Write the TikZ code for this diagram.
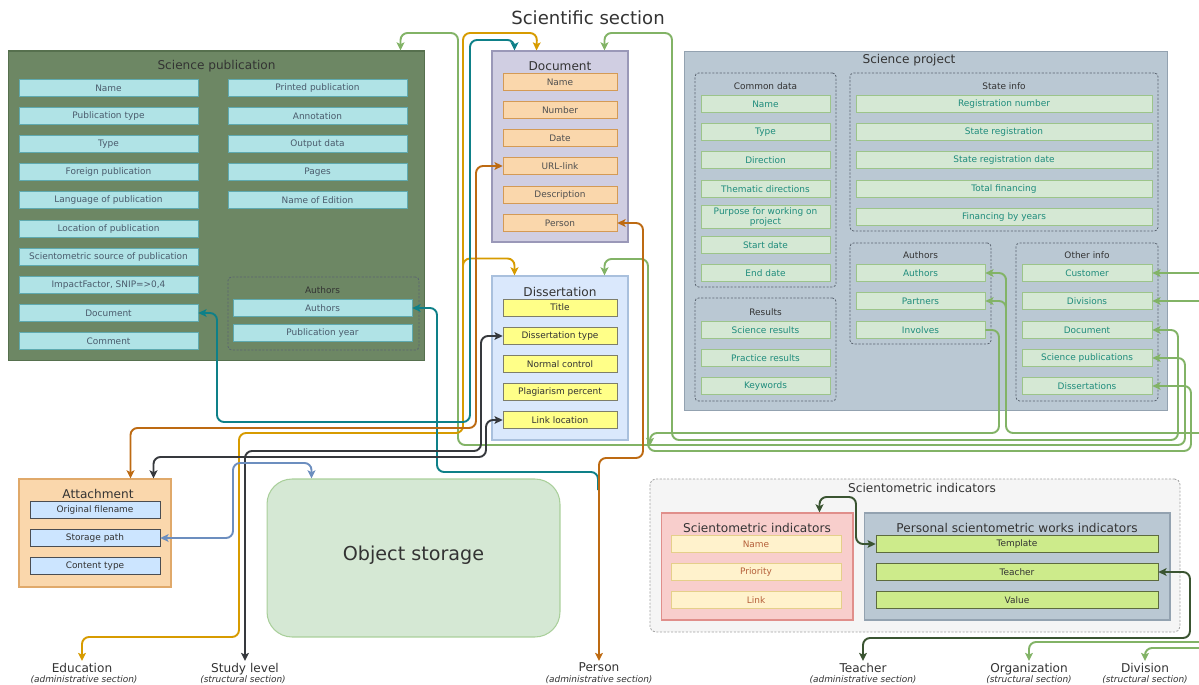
\documentclass[tikz,border=0pt]{standalone}
\usepackage{fontspec}
\setmainfont{DejaVu Sans}
\usetikzlibrary{arrows.meta,calc}

% palette
\definecolor{ink}{HTML}{333333}
\definecolor{spFill}{HTML}{6D8764}
\definecolor{spLine}{HTML}{56704E}
\definecolor{spfFill}{HTML}{B0E3E6}
\definecolor{spfLine}{HTML}{5FAAB0}
\definecolor{spfText}{HTML}{4A5B6C}
\definecolor{docFill}{HTML}{D0CEE2}
\definecolor{docLine}{HTML}{9A98B8}
\definecolor{docfFill}{HTML}{FAD7AC}
\definecolor{docfLine}{HTML}{D49A55}
\definecolor{docfText}{HTML}{505050}
\definecolor{disFill}{HTML}{DAE8FC}
\definecolor{disLine}{HTML}{A9C0DD}
\definecolor{disfFill}{HTML}{FFFF88}
\definecolor{disfLine}{HTML}{7E7E6A}
\definecolor{prjFill}{HTML}{BAC8D3}
\definecolor{prjLine}{HTML}{93A2B0}
\definecolor{prjfFill}{HTML}{D5E8D4}
\definecolor{prjfLine}{HTML}{9CC48A}
\definecolor{prjfText}{HTML}{1F8C7C}
\definecolor{grpLine}{HTML}{5A6470}
\definecolor{attFill}{HTML}{FAD7AC}
\definecolor{attLine}{HTML}{E0A96A}
\definecolor{attfFill}{HTML}{CCE5FF}
\definecolor{attfLine}{HTML}{4A4D52}
\definecolor{objFill}{HTML}{D5E8D4}
\definecolor{objLine}{HTML}{A9CF9A}
\definecolor{outFill}{HTML}{F5F5F5}
\definecolor{outLine}{HTML}{A0A0A0}
\definecolor{siFill}{HTML}{F8CECC}
\definecolor{siLine}{HTML}{E08F8B}
\definecolor{sifFill}{HTML}{FFF2CC}
\definecolor{sifLine}{HTML}{E5CF8A}
\definecolor{sifText}{HTML}{B5603A}
\definecolor{pwfFill}{HTML}{CDEB8B}
\definecolor{pwfLine}{HTML}{5D6B3E}
% connector colours
\definecolor{cGreen}{HTML}{82B366}
\definecolor{cOrange}{HTML}{D79B00}
\definecolor{cRust}{HTML}{BD6A12}
\definecolor{cTeal}{HTML}{0E8088}
\definecolor{cDark}{HTML}{36393D}
\definecolor{cBlue}{HTML}{6C8EBF}
\definecolor{cForest}{HTML}{3A5431}

\newcommand\fsField{\fontsize{5.1pt}{6.2pt}\selectfont}
\newcommand\fsHead{\fontsize{6.9pt}{8pt}\selectfont}
\newcommand\fsMain{\fontsize{10.3pt}{12pt}\selectfont}
\newcommand\fsStore{\fontsize{10.9pt}{13pt}\selectfont}

\tikzset{
  fieldbase/.style={draw, line width=0.45pt, minimum height=0.34cm, inner sep=0pt, font=\fsField, align=center},
  spf/.style={fieldbase, fill=spfFill, draw=spfLine, text=spfText, minimum width=3.58cm},
  docf/.style={fieldbase, fill=docfFill, draw=docfLine, text=docfText, minimum width=2.28cm},
  disf/.style={fieldbase, fill=disfFill, draw=disfLine, text=ink, minimum width=2.28cm},
  prjf/.style={fieldbase, fill=prjfFill, draw=prjfLine, text=prjfText, minimum width=2.58cm},
  attf/.style={fieldbase, fill=attfFill, draw=attfLine, text=ink, minimum width=2.6cm},
  sif/.style={fieldbase, fill=sifFill, draw=sifLine, text=sifText, minimum width=3.4cm},
  pwf/.style={fieldbase, fill=pwfFill, draw=pwfLine, text=ink, minimum width=5.64cm},
  box/.style={draw, line width=0.6pt, inner sep=0pt},
  grp/.style={draw=grpLine, line width=0.45pt, dash pattern=on 1.2pt off 0.9pt, rounded corners=2pt, inner sep=0pt},
  head/.style={font=\fsHead, text=ink, inner sep=0pt},
  glabel/.style={font=\fsField, text=ink, inner sep=0pt},
  btm/.style={font=\fsHead, text=ink, inner sep=1pt, anchor=north},
  btmsub/.style={font=\fsField\itshape, text=ink, inner sep=0pt},
  link/.style={line width=1.1pt, rounded corners=4pt},
  >={Stealth[length=4.6pt,width=4.4pt,inset=1pt]},
}

\begin{document}
\begin{tikzpicture}[x=0.02cm,y=-0.02cm]
\useasboundingbox (0,0) rectangle (1199,685);

\node[font=\fsMain, text=ink, inner sep=0pt] (title) at (588,18) {Scientific section};

% ---------- Science publication ----------
\node[box, fill=spFill, draw=spLine, minimum width=8.34cm, minimum height=6.2cm] (spbox) at (216.5,206) {};
\node[head] (sphead) at (216.5,66) {Science publication};
\foreach \n/\y/\t in {1/88/Name, 2/116/Publication type, 3/144/Type, 4/172/Foreign publication,
  5/200/Language of publication, 6/229/Location of publication,
  7/257/Scientometric source of publication, 8/285/{ImpactFactor, SNIP=>0,4},
  9/313/Document, 10/341/Comment}
  \node[spf] (sp\n) at (108.5,\y) {\t};
\foreach \n/\y/\t in {1/88/Printed publication, 2/116/Annotation, 3/144/Output data, 4/172/Pages, 5/200/Name of Edition}
  \node[spf] (sq\n) at (317.5,\y) {\t};
\node[grp, minimum width=3.82cm, minimum height=1.46cm] (spgrp) at (323.5,313.5) {};
\node[glabel] (spgrph) at (322.5,290) {Authors};
\node[spf] (spa1) at (322.5,308) {Authors};
\node[spf] (spa2) at (322.5,333) {Publication year};

% ---------- Document ----------
\node[box, fill=docFill, draw=docLine, minimum width=2.72cm, minimum height=3.82cm] (docbox) at (560,146.5) {};
\node[head] (dochead) at (560,66) {Document};
\foreach \n/\y/\t in {1/82/Name, 2/110/Number, 3/138/Date, 4/166/URL-link, 5/195/Description, 6/223/Person}
  \node[docf] (doc\n) at (560,\y) {\t};

% ---------- Dissertation ----------
\node[box, fill=disFill, draw=disLine, minimum width=2.72cm, minimum height=3.28cm] (disbox) at (560,358) {};
\node[head] (dishead) at (560,292) {Dissertation};
\foreach \n/\y/\t in {1/307.5/Title, 2/336/Dissertation type, 3/364/Normal control, 4/392/Plagiarism percent, 5/420/Link location}
  \node[disf] (dis\n) at (560,\y) {\t};

% ---------- Science project ----------
\node[box, fill=prjFill, draw=prjLine, minimum width=9.68cm, minimum height=7.2cm] (prj) at (926,231) {};
\node[head] (prjhead) at (909,60) {Science project};
\node[grp, minimum width=2.82cm, minimum height=4.28cm] (gcd) at (765.5,180) {};
\node[glabel] (gcdh) at (765.5,86) {Common data};
\foreach \n/\y/\t in {1/104/Name, 2/132/Type, 3/160/Direction, 4/189/Thematic directions, 6/245/Start date, 7/273/End date}
  \node[prjf] (cd\n) at (765.5,\y) {\t};
\node[prjf, minimum height=0.46cm] (cd5) at (765.5,217) {Purpose for working on\\project};
\node[grp, minimum width=6.16cm, minimum height=3.16cm] (gst) at (1004,152) {};
\node[glabel] (gsth) at (1004,86) {State info};
\foreach \n/\y/\t in {1/104/Registration number, 2/132/State registration, 3/160/State registration date, 4/189/Total financing, 5/217/Financing by years}
  \node[prjf, minimum width=5.92cm] (st\n) at (1004,\y) {\t};
\node[grp, minimum width=2.82cm, minimum height=2.06cm] (grs) at (765.5,349.5) {};
\node[glabel] (grsh) at (765.5,312) {Results};
\foreach \n/\y/\t in {1/330/Science results, 2/358/Practice results, 3/386/Keywords}
  \node[prjf] (rs\n) at (765.5,\y) {\t};
\node[grp, minimum width=2.82cm, minimum height=2.02cm] (gau) at (920.5,293.5) {};
\node[glabel] (gauh) at (920.5,255) {Authors};
\foreach \n/\y/\t in {1/273/Authors, 2/301/Partners, 3/330/Involves}
  \node[prjf] (au\n) at (920.5,\y) {\t};
\node[grp, minimum width=2.84cm, minimum height=3.16cm] (got) at (1087,322) {};
\node[glabel] (goth) at (1087,255) {Other info};
\foreach \n/\y/\t in {1/273/Customer, 2/301/Divisions, 3/330/Document, 4/358/Science publications, 5/386/Dissertations}
  \node[prjf, minimum width=2.6cm] (ot\n) at (1087,\y) {\t};

% ---------- Attachment and storage ----------
\node[box, fill=attFill, draw=attLine, minimum width=3.04cm, minimum height=2.16cm] (att) at (95,533) {};
\node[head] (atthead) at (98,494) {Attachment};
\foreach \n/\y/\t in {1/510/Original filename, 2/538/Storage path, 3/566/Content type}
  \node[attf] (at\n) at (95,\y) {\t};
\node[box, fill=objFill, draw=objLine, rounded corners=0.5cm, minimum width=5.86cm, minimum height=3.16cm] (obj) at (413.5,558) {};
\node[font=\fsStore, text=ink, inner sep=0pt] (objtext) at (413.5,555) {Object storage};

% ---------- Scientometric indicators ----------
\node[draw=outLine, fill=outFill, line width=0.45pt, dash pattern=on 1.2pt off 0.9pt, rounded corners=3pt,
      minimum width=10.6cm, minimum height=3.06cm, inner sep=0pt] (siouter) at (915,555.5) {};
\node[head] (siouterh) at (922,488) {Scientometric indicators};
\node[box, fill=siFill, draw=siLine, minimum width=3.84cm, minimum height=2.14cm] (si) at (757,566.5) {};
\node[head] (sih) at (757,528) {Scientometric indicators};
\foreach \n/\y/\t in {1/544/Name, 2/572/Priority, 3/600/Link}
  \node[sif] (si\n) at (756,\y) {\t};
\node[box, fill=prjFill, draw=prjLine, minimum width=6.12cm, minimum height=2.14cm] (pw) at (1017,566.5) {};
\node[head] (pwh) at (1017,528) {Personal scientometric works indicators};
\foreach \n/\y/\t in {1/544/Template, 2/572/Teacher, 3/600/Value}
  \node[pwf] (pw\n) at (1017,\y) {\t};

% ---------- outside references ----------
\node[btm] (edu) at (82,661) {Education};
\node[btmsub] (edus) at (84,680) {(administrative section)};
\node[btm] (study) at (245,661) {Study level};
\node[btmsub] (studys) at (243,680) {(structural section)};
\node[btm] (person) at (599,661) {Person};
\node[btmsub] (persons) at (599,680) {(administrative section)};
\node[btm] (teacher) at (863,661) {Teacher};
\node[btmsub] (teachers) at (863,680) {(administrative section)};
\node[btm] (org) at (1029,661) {Organization};
\node[btmsub] (orgs) at (1029,680) {(structural section)};
\node[btm] (division) at (1145,661) {Division};
\node[btmsub] (divisions) at (1145,680) {(structural section)};

\coordinate (edgeCust) at (1199,273);
\coordinate (edgeDivs) at (1199,301);
\coordinate (edgeAuth) at (1199,433);
\coordinate (edgeOrg) at (1199,642);
\coordinate (edgeDiv) at (1199,648);

% ---------- connectors ----------
% project links (light green)
\draw[link, cGreen, <->] (ot4.east) -| (1185,445) -| (458,33) -| ($(spbox.north west)+(393,0)$);
\draw[link, cGreen, <->] (ot3.east) -| (1178,440) -| (672,33) -| ($(docbox.north west)+(113,0)$);
\draw[link, cGreen, <->] (ot5.east) -| (1191,451) -| (648,259) -| ($(disbox.north west)+(113,0)$);
\draw[link, cGreen, ->] (au3.east) -| (999,433) -| (650,446);
\draw[link, cGreen, ->] (edgeAuth) -| (1006,285) |- (au1.east);
\draw[link, cGreen, ->] (1006,315) |- (au2.east);
\draw[link, cGreen, ->] (edgeCust) -- (ot1.east);
\draw[link, cGreen, ->] (edgeDivs) -- (ot2.east);
\draw[link, cGreen, ->] (edgeOrg) -| (org.north);
\draw[link, cGreen, ->] (edgeDiv) -| (division.north);

% education (orange)
\draw[link, cOrange, <->] (edu.north) |- (239,637) |- (463,433) |- (537,33) -- ($(docbox.north west)+(45,0)$);
\draw[link, cOrange, ->] (463,300) |- ($(disbox.north west)+(23,-17)$) -- ($(disbox.north west)+(23,0)$);

% documents of a publication (teal)
\draw[link, cTeal, <->] (sp9.east) -| (217,422) -| (470,40) -| ($(docbox.north west)+(23,0)$);
\draw[link, cTeal, ->] (598,490) |- (437,472) |- (spa1.east);

% attachment and person (rust)
\draw[link, cRust, <->] (doc4.west) -| (476,428) -| ($(att.north west)+(112,0)$);
\draw[link, cRust, <->] (doc6.east) -| (643,458) -| (person.north);

% study level and link location (dark)
\draw[link, cDark, <->] (dis2.west) -| (481,451) -| (study.north);
\draw[link, cDark, <->] (dis5.west) -| (486,457) -| ($(att.north west)+(135,0)$);

% storage path (blue)
\draw[link, cBlue, <->] (at2.east) -| (233,463) -| ($(obj.north west)+(45,0)$);

% scientometrics (forest)
\draw[link, cForest, <->] ($(si.north west)+(159,0)$) |- (856,497) |- (pw1.west);
\draw[link, cForest, <->] (pw2.east) -| (1190,638) -| (teacher.north);
\end{tikzpicture}
\end{document}
